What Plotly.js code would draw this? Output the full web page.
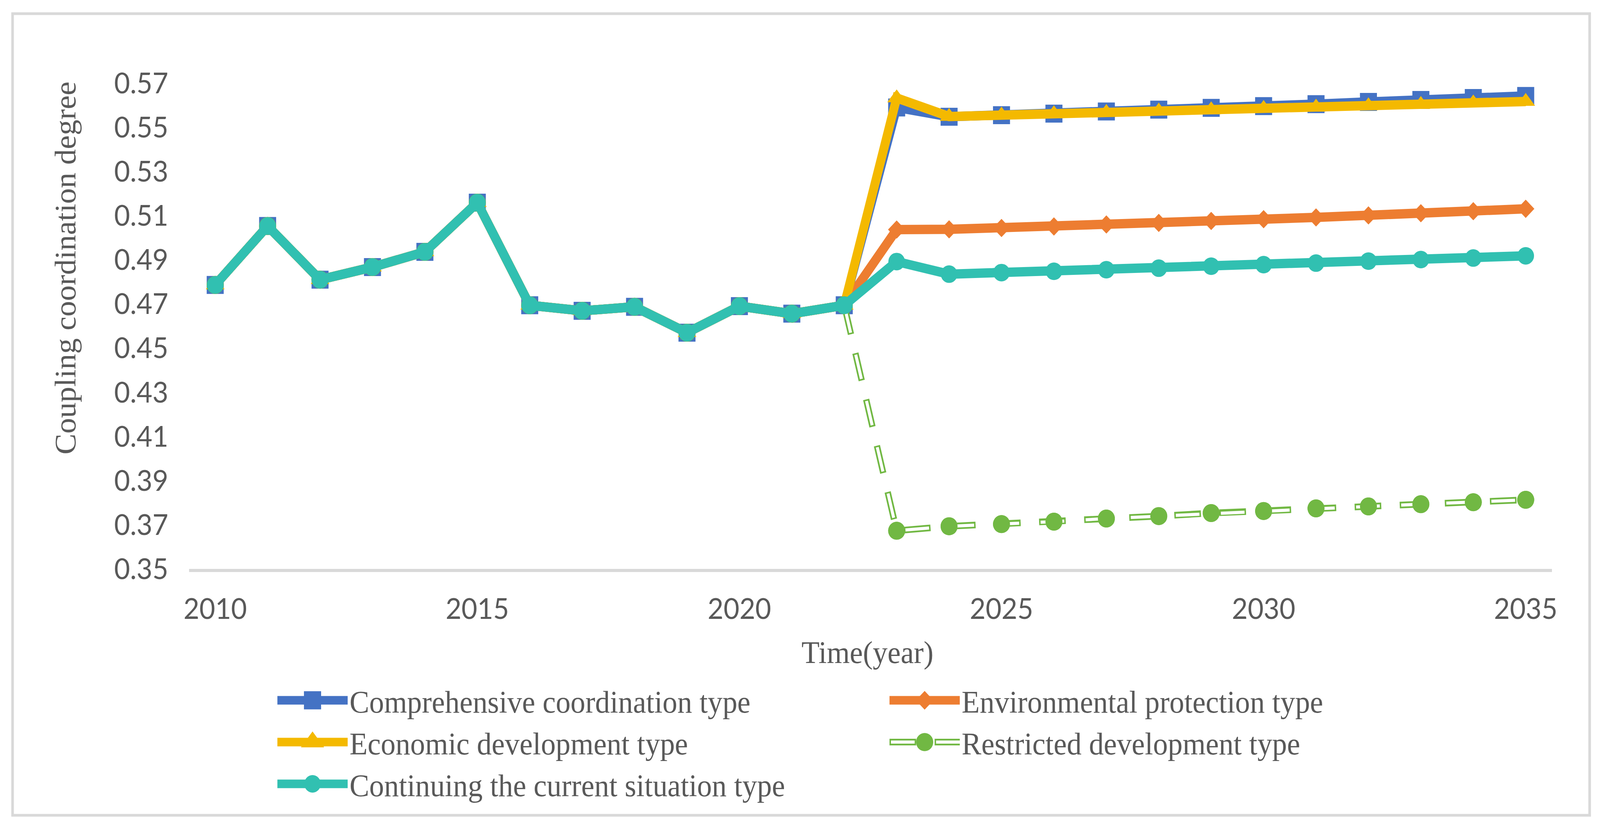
<!DOCTYPE html>
<html>
<head>
<meta charset="utf-8">
<script src="https://cdn.plot.ly/plotly-3.0.1.min.js"></script>
<style>
  html, body { margin: 0; padding: 0; background: #fff; overflow: hidden; }
  #chart { width: 4326px; height: 2118px; transform-origin: 0 0; }
</style>
</head>
<body>
<div id="chart"></div>
<script>
/* Coupling coordination degree under five development scenarios, 2010-2035 */

const YEARS = [2010, 2011, 2012, 2013, 2014, 2015, 2016, 2017, 2018, 2019, 2020, 2021, 2022,
  2023, 2024, 2025, 2026, 2027, 2028, 2029, 2030, 2031, 2032, 2033, 2034, 2035];

// 2010-2022 observed values, shared by every scenario
const HISTORY = [0.4786, 0.5053, 0.4810, 0.4867, 0.4936, 0.5159, 0.4694,
  0.4669, 0.4687, 0.4570, 0.4690, 0.4656, 0.4694];

// 2023-2035 scenario values
const COMPREHENSIVE = [0.5590, 0.5548, 0.5555, 0.5562, 0.5572, 0.5580, 0.5588,
  0.5596, 0.5605, 0.5615, 0.5624, 0.5633, 0.5642];
const ENVIRONMENTAL = [0.5037, 0.5038, 0.5044, 0.5051, 0.5060, 0.5067, 0.5076,
  0.5084, 0.5092, 0.5101, 0.5111, 0.5120, 0.5131];
const ECONOMIC = [0.5633, 0.5549, 0.5555, 0.5561, 0.5567, 0.5573, 0.5579,
  0.5585, 0.5591, 0.5597, 0.5603, 0.5610, 0.5617];
const RESTRICTED = [0.3673, 0.3693, 0.3703, 0.3714, 0.3728, 0.3739, 0.3753,
  0.3762, 0.3774, 0.3783, 0.3793, 0.3802, 0.3813];
const CONTINUING = [0.4892, 0.4835, 0.4842, 0.4848, 0.4855, 0.4862, 0.4871,
  0.4878, 0.4885, 0.4894, 0.4901, 0.4908, 0.4918];

const X_TICKS = [2010, 2015, 2020, 2025, 2030, 2035];

const COLORS = {
  blue: '#4472C4', orange: '#ED7D31', gold: '#F4B900',
  green: '#71B843', teal: '#31C0B1', text: '#595959', frame: '#D9D9D9',
};

const SERIF = '"Liberation Serif", "Times New Roman", serif';
const SANS = 'Lato, "Open Sans", sans-serif';

// plot-area box in page pixels
const W = 4326, H = 2118;
const L = 511, R = 4196, T = 213, B = 1457;
const px2x = px => (px - L) / (R - L);
const px2y = py => (B - py) / (B - T);

const GREEN_DASH = '72px,50px';
const GREEN_HOLLOW = '0px,4px,64px,54px';   // same period, white core inside each dash

const series = name => ({ x: YEARS, name: name, type: 'scatter', mode: 'lines+markers',
  cliponaxis: false, hoverinfo: 'skip' });

const traces = [
  Object.assign(series('Comprehensive coordination type'), {
    y: HISTORY.concat(COMPREHENSIVE),
    line: { color: COLORS.blue, width: 24 },
    marker: { symbol: 'square', size: 46, color: COLORS.blue },
  }),
  Object.assign(series('Environmental protection type'), {
    y: HISTORY.concat(ENVIRONMENTAL),
    line: { color: COLORS.orange, width: 24 },
    marker: { symbol: 'diamond', size: 36, color: COLORS.orange },
  }),
  Object.assign(series('Economic development type'), {
    y: HISTORY.concat(ECONOMIC),
    line: { color: COLORS.gold, width: 24 },
    marker: { symbol: 'triangle-up', size: 44, color: COLORS.gold },
  }),
  // restricted: hollow dashes = green dash + narrower white dash, markers on top
  Object.assign(series('Restricted development type'), {
    y: HISTORY.concat(RESTRICTED),
    line: { color: COLORS.green, width: 17, dash: GREEN_DASH },
    marker: { symbol: 'circle', size: 46, color: COLORS.green },
  }),
  Object.assign(series('Restricted inner'), {
    y: HISTORY.concat(RESTRICTED), mode: 'lines', showlegend: false,
    line: { color: '#ffffff', width: 8, dash: GREEN_HOLLOW },
  }),
  Object.assign(series('Restricted markers'), {
    y: HISTORY.concat(RESTRICTED), mode: 'markers', showlegend: false,
    marker: { symbol: 'circle', size: 46, color: COLORS.green },
  }),
  Object.assign(series('Continuing the current situation type'), {
    y: HISTORY.concat(CONTINUING),
    line: { color: COLORS.teal, width: 24 },
    marker: { symbol: 'circle', size: 45, color: COLORS.teal },
  }),
];

const layout = {
  width: W, height: H,
  paper_bgcolor: '#ffffff', plot_bgcolor: '#ffffff',
  margin: { l: L, r: W - R, t: T, b: H - B, pad: 0, autoexpand: false },
  font: { family: SERIF, size: 80, color: COLORS.text },
  showlegend: true,
  xaxis: {
    range: [2009.5, 2035.5], tickvals: X_TICKS, ticks: '',
    showgrid: false, zeroline: false, automargin: false,
    showline: true, linecolor: COLORS.frame, linewidth: 8,
    tickfont: { family: SANS, size: 74, color: COLORS.text },
    ticklabelstandoff: 31,
  },
  yaxis: {
    range: [0.35, 0.57], tick0: 0.35, dtick: 0.02, tickformat: '.2f', ticks: '',
    showgrid: false, zeroline: false, showline: false, automargin: false,
    tickfont: { family: SANS, size: 74, color: COLORS.text },
    ticklabelstandoff: 55,
  },
  legend: {
    orientation: 'h', x: px2x(745), y: px2y(1735), xanchor: 'left', yanchor: 'top',
    entrywidth: 1450, itemwidth: 190, bgcolor: 'rgba(0,0,0,0)',
    font: { family: SERIF, size: 80, color: COLORS.text },
  },
  annotations: [
    { text: 'Coupling coordination degree', xref: 'paper', yref: 'paper',
      x: px2x(177), y: px2y(687), textangle: -90, showarrow: false,
      xanchor: 'center', yanchor: 'middle',
      font: { family: SERIF, size: 80, color: COLORS.text } },
    { text: 'Time(year)', xref: 'paper', yref: 'paper',
      x: px2x(2345), y: px2y(1671), showarrow: false,
      xanchor: 'center', yanchor: 'middle',
      font: { family: SERIF, size: 80, color: COLORS.text } },
  ],
  shapes: [
    { type: 'rect', xref: 'paper', yref: 'paper', layer: 'below',
      x0: px2x(34), x1: px2x(4298), y0: px2y(2088), y1: px2y(35),
      line: { color: COLORS.frame, width: 7 }, fillcolor: 'rgba(0,0,0,0)' },
  ],
  hovermode: false,
};

// Plotly caps legend symbols (line <= 10px, marker <= 16px); enlarge them to match the plot
const LEGEND_SYMBOLS = {
  'Comprehensive coordination type': { width: 22, scale: 2.9 },
  'Environmental protection type': { width: 22, scale: 2.3 },
  'Economic development type': { width: 22, scale: 3.4 },
  'Restricted development type': { width: 17, scale: 2.9, hollow: true },
  'Continuing the current situation type': { width: 22, scale: 2.8 },
};

function enlargeLegend(el) {
  el.querySelectorAll('.legend .traces').forEach(function (g) {
    const label = g.querySelector('.legendtext');
    const spec = label && LEGEND_SYMBOLS[label.textContent];
    if (!spec) return;
    const line = g.querySelector('.legendlines path');
    if (line) {
      line.style.strokeWidth = spec.width + 'px';
      if (spec.hollow) {
        const core = line.cloneNode(true);
        core.style.stroke = '#ffffff';
        core.style.strokeWidth = '8px';
        core.style.strokeDasharray = GREEN_HOLLOW;
        line.parentNode.appendChild(core);
      }
    }
    g.querySelectorAll('.legendpoints path').forEach(function (p) {
      const t = p.getAttribute('transform') || '';
      p.setAttribute('transform', t + ' scale(' + spec.scale + ')');
    });
  });
}

// the window can be narrower than the chart: squeeze it to fit horizontally
const chart = document.getElementById('chart');
const fitX = Math.min(1, window.innerWidth / W);
if (fitX < 1) chart.style.transform = 'scaleX(' + fitX + ')';

Plotly.newPlot(chart, traces, layout, { staticPlot: true, displayModeBar: false })
  .then(enlargeLegend);
</script>
</body>
</html>
